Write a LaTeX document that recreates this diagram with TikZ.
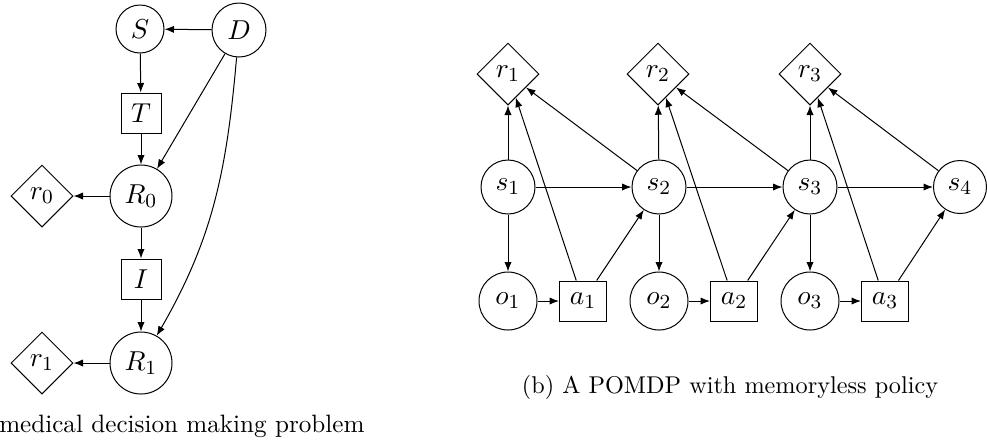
\documentclass[tikz,border=0pt]{standalone}
\usetikzlibrary{shapes.geometric,arrows.meta}
\begin{document}
\begin{tikzpicture}[x=0.4pt,y=-0.4pt,
  every node/.style={inner sep=0pt,font=\fontsize{11}{13}\selectfont},
  circ/.style={circle,draw,line width=0.4pt,minimum size=#1},
  sq/.style={rectangle,draw,line width=0.4pt,minimum height=16pt,minimum width=#1},
  dia/.style={diamond,draw,line width=0.4pt,minimum size=24.8pt,aspect=1},
  captext/.style={font=\fontsize{#1}{12}\selectfont},
  arr/.style={-{Latex[length=3.8pt,width=2.9pt]},line width=0.4pt}]
\useasboundingbox (0,0) rectangle (987,443);
% (a)
\node[circ=19.2pt] (S) at (140,29) {$S$};
\node[circ=21.6pt] (D) at (239,30) {$D$};
\node[sq=16pt] (T) at (141,113) {$T$};
\node[circ=24.8pt] (R0) at (141,196) {$R_0$};
\node[dia] (r0) at (42,196) {$r_0$};
\node[sq=16pt] (I) at (141,279) {$I$};
\node[circ=24.8pt] (R1) at (141,363) {$R_1$};
\node[dia] (ra1) at (42,363) {$r_1$};
\node[captext=10.05,anchor=base east] (capa) at (365,432) {(a) A medical decision making problem};
\draw[arr] (D) -- (S);
\draw[arr] (S) -- (T);
\draw[arr] (T) -- (R0);
\draw[arr] (D) -- (R0);
\draw[arr] (R0) -- (r0);
\draw[arr] (R0) -- (I);
\draw[arr] (I) -- (R1);
\draw[arr] (R1) -- (ra1);
\draw[arr] (D) to[out=-95,in=60] (R1);
% (b)
\node[dia] (r1) at (508,74) {$r_1$};
\node[dia] (r2) at (658,74) {$r_2$};
\node[dia] (r3) at (810,74) {$r_3$};
\node[circ=21.6pt] (s1) at (508,187) {$s_1$};
\node[circ=21.6pt] (s2) at (659,187) {$s_2$};
\node[circ=21.6pt] (s3) at (810,187) {$s_3$};
\node[circ=21.2pt] (s4) at (960,187) {$s_4$};
\node[circ=23.2pt] (o1) at (508,301) {$o_1$};
\node[circ=23.2pt] (o2) at (659,301) {$o_2$};
\node[circ=23.2pt] (o3) at (810,301) {$o_3$};
\node[sq=18.8pt] (a1) at (583,301) {$a_1$};
\node[sq=18.8pt] (a2) at (734,301) {$a_2$};
\node[sq=18.8pt] (a3) at (885,301) {$a_3$};
\node[captext=9.7,anchor=base] (capb) at (730,393) {(b) A POMDP with memoryless policy};
\draw[arr] (s1) -- (r1);
\draw[arr] (s2) -- (r2);
\draw[arr] (s3) -- (r3);
\draw[arr] (s2) -- (r1);
\draw[arr] (s3) -- (r2);
\draw[arr] (s4) -- (r3);
\draw[arr] (a1) -- (r1);
\draw[arr] (a2) -- (r2);
\draw[arr] (a3) -- (r3);
\draw[arr] (s1) -- (s2);
\draw[arr] (s2) -- (s3);
\draw[arr] (s3) -- (s4);
\draw[arr] (s1) -- (o1);
\draw[arr] (s2) -- (o2);
\draw[arr] (s3) -- (o3);
\draw[arr] (o1) -- (a1);
\draw[arr] (o2) -- (a2);
\draw[arr] (o3) -- (a3);
\draw[arr] (a1) -- (s2);
\draw[arr] (a2) -- (s3);
\draw[arr] (a3) -- (s4);
\end{tikzpicture}
\end{document}
